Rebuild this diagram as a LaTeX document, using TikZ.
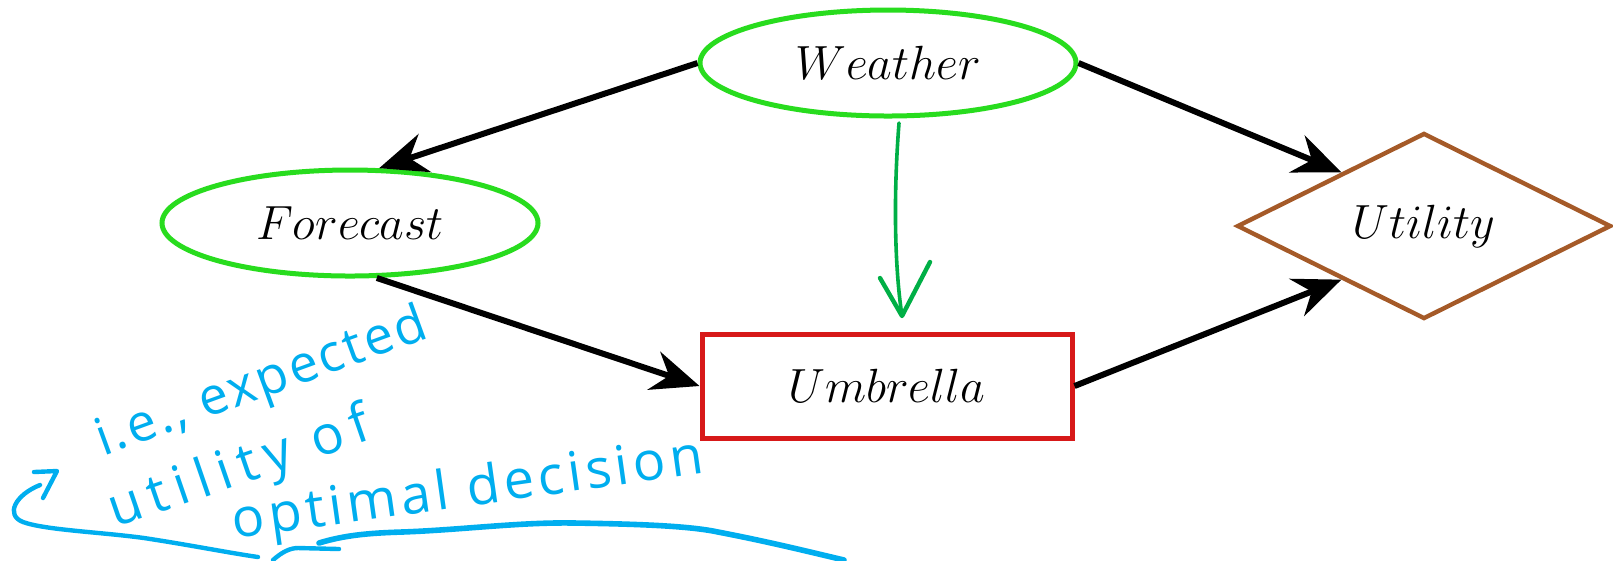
\documentclass[tikz,border=0pt]{standalone}
\usepackage{fontspec}
\newfontfamily\handfont{Open Sans}
\usetikzlibrary{shapes.geometric,arrows.meta}
\definecolor{nodegreen}{RGB}{40,220,30}
\definecolor{boxred}{RGB}{215,25,25}
\definecolor{diambrown}{RGB}{165,90,40}
\definecolor{inkblue}{RGB}{0,174,239}
\definecolor{inkgreen}{RGB}{0,175,70}
\tikzset{
  chance/.style={ellipse, draw=nodegreen, line width=1.25pt, inner sep=0pt,
    minimum width=94pt, minimum height=26.5pt, font=\fontsize{13}{15}\selectfont},
  decision/.style={rectangle, draw=boxred, line width=1.25pt, inner sep=0pt,
    minimum width=92.5pt, minimum height=26pt, font=\fontsize{13}{15}\selectfont},
  payoff/.style={diamond, draw=diambrown, line width=1.1pt, inner sep=0pt, aspect=2,
    minimum width=93.5pt, minimum height=46.5pt, font=\fontsize{13}{15}\selectfont},
  link/.style={line width=1.5pt, -{Stealth[length=12pt, width=10pt, inset=4pt]}},
  ink/.style={draw=inkblue, line width=1.1pt, line cap=round, line join=round},
  inktext/.style={text=inkblue, inner sep=0pt},
}
\begin{document}
\begin{tikzpicture}[x=0.25pt, y=-0.25pt]
  \useasboundingbox (0,0) rectangle (1613,560);
  \fill[white] (0,0) rectangle (1613,560);

  % influence diagram
  \node[chance]   (weather)  at (888,63)   {$Weather$};
  \node[chance]   (forecast) at (350,223)  {$Forecast$};
  \node[decision] (umbrella) at (887,386)  {$Umbrella$};
  \node[payoff]   (utility)  at (1424,226) {$Utility$};

  \draw[link] (weather.west) -- (forecast.62);
  \draw[link] (weather.east) -- (utility.147);
  \draw[link] (forecast.-64) -- (umbrella.west);
  \draw[link] (umbrella.east) -- (utility.213);

  % green pen stroke from Weather to Umbrella
  \coordinate (gstart) at (899,123);
  \coordinate (gtip) at (902,316);
  \draw[draw=inkgreen, line width=0.9pt, line cap=round, line join=round]
    (gstart) .. controls (893,200) and (895,270) .. (gtip);
  \draw[draw=inkgreen, line width=1.1pt, line cap=round, line join=round]
    (880,278) -- (gtip) -- (930,262);

  % blue pen notes
  \node[inktext, rotate=20, font=\handfont\addfontfeature{LetterSpace=5}\fontsize{13}{15}\selectfont]
    (l1) at (262,384) {i.e., expected};
  \node[inktext, rotate=19, font=\handfont\addfontfeature{LetterSpace=16}\fontsize{13.5}{15}\selectfont]
    (l2) at (240,470) {utility of};
  \node[inktext, rotate=8, font=\handfont\addfontfeature{LetterSpace=8}\fontsize{13.5}{15}\selectfont]
    (l3) at (468,492) {optimal decision};

  \draw[ink] (34,472) -- (57,471) -- (43,498);
  \draw[ink] (40,485) .. controls (15,495) and (5,515) .. (23,522)
    .. controls (45,530) and (100,532) .. (144,538)
    .. controls (190,545) and (230,553) .. (258,557);
  \draw[ink] (273,560) .. controls (282,552) and (290,548) .. (298,548)
    -- (339,549);
  \draw[ink, line width=1.4pt] (319,543) .. controls (345,535) and (370,533) .. (402,532)
    .. controls (460,530) and (520,522) .. (574,523)
    .. controls (640,524) and (690,526) .. (718,532)
    .. controls (770,542) and (810,552) .. (844,560);
\end{tikzpicture}
\end{document}
